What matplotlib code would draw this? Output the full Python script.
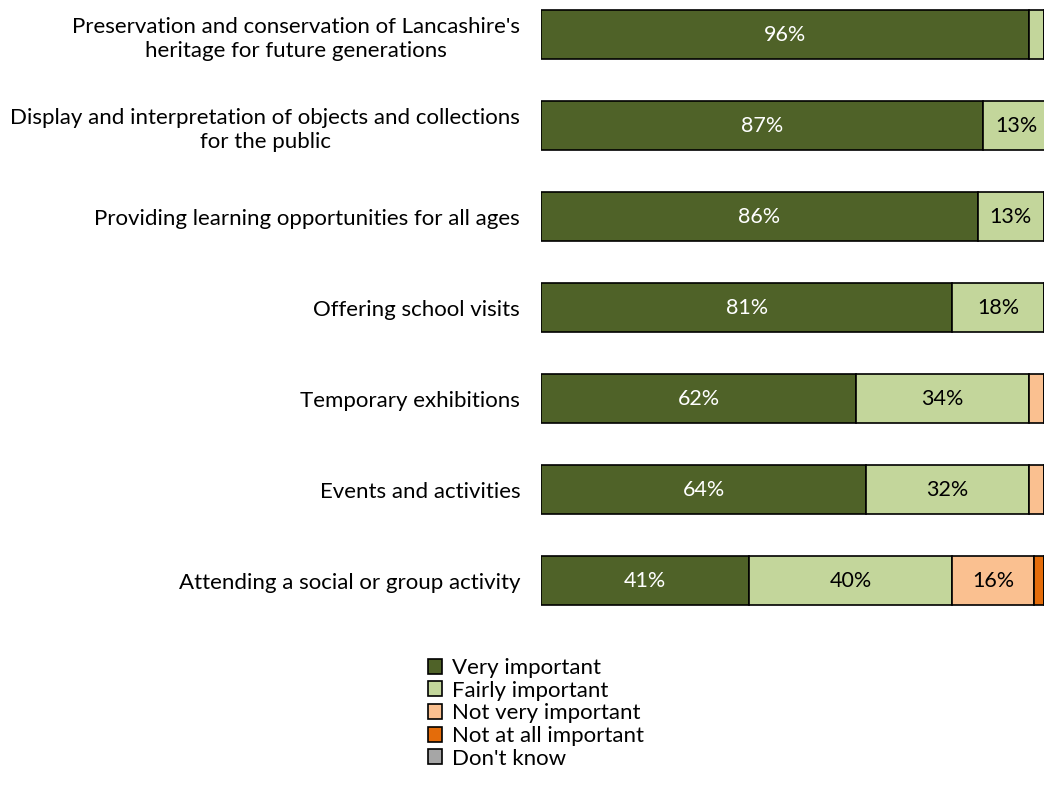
import matplotlib
matplotlib.use('Agg')
import matplotlib.pyplot as plt
import numpy as np

plt.rcParams['font.family'] = ['Lato', 'DejaVu Sans']

categories = [
    "Preservation and conservation of Lancashire's\nheritage for future generations",
    "Display and interpretation of objects and collections\nfor the public",
    "Providing learning opportunities for all ages",
    "Offering school visits",
    "Temporary exhibitions",
    "Events and activities",
    "Attending a social or group activity",
]
series = ["Very important", "Fairly important", "Not very important",
          "Not at all important", "Don't know"]
very = [96, 87, 86, 81, 62, 64, 41]
fairly = [3, 13, 13, 18, 34, 32, 40]
not_very = [1, 0, 1, 1, 3, 3, 16]
not_at_all = [0, 0, 0, 0, 1, 1, 2]
dont_know = [0, 0, 0, 0, 0, 0, 1]
colors = ['#4F6228', '#C3D69B', '#FAC090', '#E46C0A', '#A6A6A6']
text_colors = ['white', 'black', 'black', 'black', 'black']

fig = plt.figure(figsize=(10.44, 7.94), dpi=100)
# right end (100%) falls just past the image edge, like the original
ax = fig.add_axes([541 / 1044, 168 / 794, 508 / 1044, 626 / 794])

y = np.arange(len(categories))
left = np.zeros(len(categories))
for vals, name, col, tc in zip([very, fairly, not_very, not_at_all, dont_know],
                               series, colors, text_colors):
    vals = np.array(vals, dtype=float)
    ax.barh(y, vals / 100, left=left, height=0.54, color=col,
            edgecolor='black', linewidth=1.2, label=name)
    for yi, l, v in zip(y, left, vals):
        if v >= 10:
            ax.text(l + v / 200, yi, f"{int(v)}%", ha='center', va='center',
                    color=tc, fontsize=15.5)
    left += vals / 100

ax.set_xlim(0, 1)
ax.set_ylim(6.5, -0.38)
ax.set_yticks(y)
ax.set_yticklabels(categories, fontsize=16, multialignment='center',
                   linespacing=1.25)
ax.tick_params(axis='y', length=0, pad=15)
ax.set_xticks([])
for s in ax.spines.values():
    s.set_visible(False)

fig.legend(loc='upper left', bbox_to_anchor=(428 / 1044, 1 - 658 / 794),
           frameon=False, fontsize=16, handlelength=0.65, handleheight=0.65,
           handletextpad=0.45, labelspacing=0.12, borderaxespad=0,
           borderpad=0)

fig.savefig('out.png', dpi=100)
